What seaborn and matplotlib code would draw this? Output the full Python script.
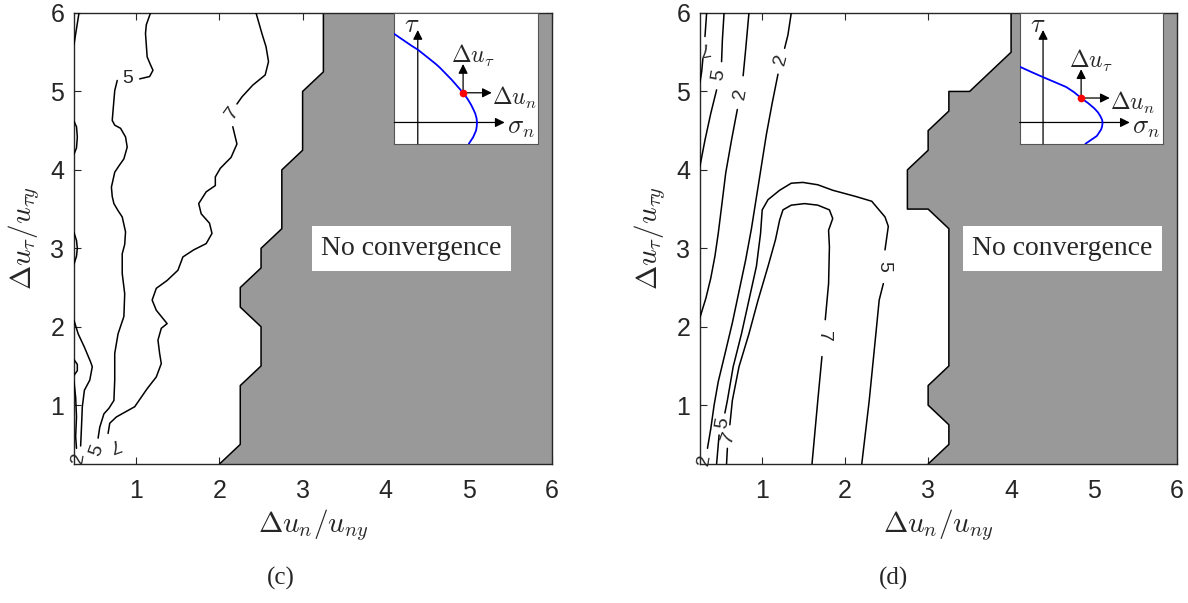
import matplotlib
matplotlib.use("Agg")
import matplotlib.pyplot as plt
import seaborn as sns

# ---------------- data ----------------
tick_vals = [1, 2, 3, 4, 5, 6]
lims = [0.25, 6.0]

# no-convergence boundary, panel (c) (bottom -> top)
gray_c_x = [2.0, 2.25, 2.25, 2.5, 2.5, 2.25, 2.25, 2.5, 2.5, 2.75, 2.75, 3.0, 3.0, 3.25, 3.25]
gray_c_y = [0.25, 0.5, 1.25, 1.5, 2.0, 2.25, 2.5, 2.75, 3.0, 3.25, 4.0, 4.25, 5.0, 5.25, 6.0]
# no-convergence boundary, panel (d)
gray_d_x = [3.0, 3.25, 3.25, 3.0, 3.0, 3.25, 3.25, 3.0, 2.75, 2.75, 3.0, 3.0, 3.25, 3.25, 3.5, 4.0, 4.0]
gray_d_y = [0.25, 0.5, 0.75, 1.0, 1.25, 1.5, 3.25, 3.5, 3.5, 4.0, 4.25, 4.5, 4.75, 5.0, 5.0, 5.5, 6.0]

# contour lines panel (c)
c5_top_x = [1.17, 1.12, 1.11, 1.13, 1.17, 1.20, 1.16, 1.04]
c5_top_y = [6.0, 5.85, 5.74, 5.44, 5.34, 5.27, 5.19, 5.16]
c5_x = [0.77, 0.74, 0.72, 0.71, 0.74, 0.81, 0.87, 0.89, 0.85, 0.79, 0.74, 0.70, 0.71, 0.73, 0.78, 0.83, 0.87,
        0.86, 0.83, 0.83, 0.86, 0.85, 0.78, 0.74, 0.74, 0.73, 0.67, 0.61, 0.56, 0.54]
c5_y = [5.14, 5.01, 4.76, 4.63, 4.57, 4.53, 4.42, 4.29, 4.14, 4.05, 3.97, 3.78, 3.66, 3.57, 3.48, 3.40, 3.21,
        3.05, 2.93, 2.68, 2.42, 2.13, 1.91, 1.66, 1.32, 1.06, 0.96, 0.89, 0.72, 0.58]
c7_top_x = [2.44, 2.51, 2.56, 2.59, 2.55, 2.40, 2.27, 2.21]
c7_top_y = [6.0, 5.74, 5.57, 5.38, 5.21, 5.08, 4.93, 4.84]
c7_x = [2.16, 2.21, 2.14, 2.01, 1.95, 1.95, 1.84, 1.75, 1.78, 1.88, 1.91, 1.84, 1.69, 1.56, 1.50,
        1.37, 1.24, 1.19, 1.24, 1.37, 1.30, 1.26, 1.28, 1.30, 1.24, 1.13, 0.98, 0.76, 0.68, 0.66]
c7_y = [4.55, 4.33, 4.16, 4.02, 3.91, 3.80, 3.72, 3.57, 3.44, 3.32, 3.19, 3.06, 2.98, 2.89, 2.72,
        2.59, 2.49, 2.34, 2.21, 2.04, 1.98, 1.83, 1.66, 1.53, 1.36, 1.21, 0.98, 0.85, 0.77, 0.64]
c2_x = [0.25, 0.30, 0.375, 0.45, 0.47, 0.44, 0.375, 0.35, 0.34, 0.33]
c2_y = [2.08, 1.91, 1.74, 1.55, 1.49, 1.32, 1.19, 0.98, 0.72, 0.48]
c_edge1_x = [0.31, 0.28, 0.25]
c_edge1_y = [6.0, 5.8, 5.6]
c_edge2_x = [0.25, 0.28, 0.29, 0.28, 0.25]
c_edge2_y = [4.62, 4.55, 4.42, 4.28, 4.2]
c_edge3_x = [0.25, 0.28, 0.29, 0.28, 0.25]
c_edge3_y = [3.2, 3.1, 3.0, 2.9, 2.8]
c_edge4_x = [0.25, 0.29, 0.29, 0.25]
c_edge4_y = [1.58, 1.52, 1.44, 1.38]
c_edge5_x = [0.25, 0.27, 0.28, 0.27, 0.28]
c_edge5_y = [1.30, 1.10, 0.85, 0.60, 0.45]

c_label_text = ["5", "7", "2", "5", "7"]
c_label_x = [0.90, 2.16, 0.30, 0.52, 0.72]
c_label_y = [5.16, 4.72, 0.33, 0.42, 0.50]
c_label_rot = [0, 55, 80, 70, 200]

# contour lines panel (d)
d7_a_x = [0.33, 0.31]
d7_a_y = [6.0, 5.70]
d7_b_x = [0.285, 0.27, 0.25]
d7_b_y = [5.42, 5.25, 5.12]
d5a_top_x = [0.54, 0.52, 0.51]
d5a_top_y = [6.0, 5.66, 5.38]
d5a_x = [0.45, 0.38, 0.31, 0.25]
d5a_y = [5.02, 4.72, 4.38, 4.05]
d2a_top_x = [0.84, 0.80, 0.77]
d2a_top_y = [6.0, 5.53, 5.20]
d2a_x = [0.70, 0.63, 0.56, 0.51, 0.47, 0.43, 0.38, 0.32, 0.25]
d2a_y = [4.77, 4.38, 3.96, 3.53, 3.19, 2.90, 2.62, 2.36, 2.12]
d2b_top_x = [1.35, 1.31, 1.27]
d2b_top_y = [6.0, 5.72, 5.55]
d2b_x = [1.19, 1.12, 1.05, 0.99, 0.93, 0.87, 0.80, 0.72, 0.64, 0.55, 0.47, 0.42, 0.38, 0.34]
d2b_y = [5.22, 4.85, 4.45, 4.05, 3.65, 3.25, 2.85, 2.45, 2.05, 1.65, 1.30, 1.0, 0.7, 0.45]
d5u_a_x = [2.20, 2.29, 2.37, 2.41, 2.46]
d5u_a_y = [0.25, 1.06, 1.91, 2.34, 2.55]
d5u_b_x = [2.48, 2.52, 2.48, 2.32, 2.13, 1.85, 1.67, 1.49, 1.35, 1.21, 1.07, 1.0, 0.98, 0.93, 0.84,
           0.75, 0.65, 0.58, 0.55]
d5u_b_y = [2.98, 3.28, 3.40, 3.60, 3.66, 3.74, 3.81, 3.84, 3.83, 3.74, 3.62, 3.49, 3.19, 2.77, 2.34,
           1.91, 1.49, 1.06, 0.90]
d5u_c_x = [0.48, 0.45]
d5u_c_y = [0.62, 0.25]
d7u_a_x = [1.60, 1.67, 1.72]
d7u_a_y = [0.25, 1.06, 1.62]
d7u_b_x = [1.76, 1.80, 1.81, 1.80, 1.85, 1.81, 1.67, 1.51, 1.35, 1.25, 1.21, 1.16, 1.07, 0.95, 0.84,
           0.72, 0.64, 0.61]
d7u_b_y = [2.09, 2.55, 3.02, 3.23, 3.38, 3.49, 3.55, 3.57, 3.55, 3.49, 3.36, 3.11, 2.77, 2.34, 1.91,
           1.49, 1.06, 0.75]
d7u_c_x = [0.58, 0.57]
d7u_c_y = [0.45, 0.25]

d_label_text = ["7", "5", "2", "2", "5", "7", "2", "5", "7"]
d_label_x = [0.29, 0.48, 0.74, 1.23, 2.47, 1.74, 0.31, 0.53, 0.59]
d_label_y = [5.56, 5.21, 4.97, 5.40, 2.77, 1.87, 0.30, 0.78, 0.59]
d_label_rot = [190, 80, 80, 75, -90, -90, 80, 80, 70]

# inset schematic (axes fractions)
ins_c_curve_x = [0.0, 0.04, 0.08, 0.12, 0.164, 0.21, 0.25, 0.29, 0.32, 0.36, 0.40, 0.44, 0.48, 0.51,
                 0.535, 0.553, 0.565, 0.574, 0.577, 0.575, 0.57, 0.56, 0.55, 0.535, 0.52]
ins_c_curve_y = [0.84, 0.81, 0.78, 0.75, 0.72, 0.68, 0.645, 0.61, 0.58, 0.535, 0.49, 0.44, 0.39, 0.345,
                 0.30, 0.26, 0.23, 0.195, 0.163, 0.13, 0.10, 0.075, 0.05, 0.025, 0.0]
ins_c_dot = (0.48, 0.39)
ins_d_curve_x = [0.0, 0.08, 0.163, 0.245, 0.326, 0.38, 0.43, 0.48, 0.523, 0.548, 0.565, 0.576, 0.58,
                 0.577, 0.57, 0.555, 0.54, 0.52, 0.50, 0.48, 0.46]
ins_d_curve_y = [0.59, 0.55, 0.51, 0.472, 0.434, 0.395, 0.35, 0.31, 0.27, 0.24, 0.21, 0.185, 0.163,
                 0.135, 0.11, 0.085, 0.06, 0.045, 0.03, 0.015, 0.0]
ins_d_dot = (0.43, 0.35)

# ---------------- style ----------------
sns.set_theme(style="white")
plt.rcParams['font.family'] = ['Liberation Sans', 'DejaVu Sans']
plt.rcParams['mathtext.fontset'] = 'cm'

fig = plt.figure(figsize=(11.88, 6.03), dpi=100)
axc = fig.add_axes([74 / 1188, 1 - 464 / 603, 478 / 1188, 451 / 603])
axd = fig.add_axes([700 / 1188, 1 - 464 / 603, 477 / 1188, 451 / 603])

GRAY = '#999999'
LW = 1.1


def line(ax, xs, ys, color='black', lw=LW, z=3):
    sns.lineplot(x=xs, y=ys, sort=False, estimator=None, color=color, lw=lw, ax=ax, zorder=z)


def panel(ax, gx, gy, lines, ltext, lx, ly, lrot, box_x, dot, cx, cy):
    px = list(gx) + [lims[1], lims[1]]
    py = list(gy) + [lims[1], lims[0]]
    ax.fill(px, py, color=GRAY, lw=0, zorder=1)
    line(ax, gx, gy, z=2)
    for xs, ys in lines:
        line(ax, xs, ys)
    for t, x, y, r in zip(ltext, lx, ly, lrot):
        ax.text(x, y, t, rotation=r, ha='center', va='center', fontsize=14,
                rotation_mode='anchor', zorder=4)
    ax.text(box_x, 3.0, 'No convergence', family='Liberation Serif', fontsize=20,
            ha='center', va='center', zorder=5,
            bbox=dict(facecolor='white', edgecolor='none', pad=7))
    ax.set_xlim(lims)
    ax.set_ylim(lims)
    ax.set_xticks(tick_vals)
    ax.set_yticks(tick_vals)
    ax.tick_params(direction='in', length=5, width=0.8, top=True, right=True,
                   bottom=True, left=True, labelsize=18, colors='#262626')
    ax.tick_params(axis='x', pad=11)
    ax.tick_params(axis='y', pad=7)
    for s in ax.spines.values():
        s.set_color('#262626')
        s.set_linewidth(1.0)
    ax.set_xlabel(r'$\Delta u_n/u_{ny}$', fontsize=21, labelpad=3, color='#262626')
    ax.set_ylabel(r'$\Delta u_\tau/u_{\tau y}$', fontsize=21, labelpad=6, color='#262626')

    ins = ax.inset_axes([0.670, 0.710, 0.300, 0.290], zorder=6)
    ins.set_facecolor('white')
    ins.set_xlim(0, 1)
    ins.set_ylim(0, 1)
    ins.set_xticks([])
    ins.set_yticks([])
    for s in ins.spines.values():
        s.set_color('#555555')
        s.set_linewidth(0.8)
    ap = dict(arrowstyle='-|>', color='black', lw=0.9, mutation_scale=14, shrinkA=0, shrinkB=0)
    ins.annotate('', xy=(0.77, 0.163), xytext=(0.0, 0.163), arrowprops=ap)
    ins.annotate('', xy=(0.164, 0.87), xytext=(0.164, 0.0), arrowprops=ap)
    line(ins, cx, cy, color='#0000ff', lw=1.3)
    ins.annotate('', xy=(dot[0], dot[1] + 0.22), xytext=dot, arrowprops=ap)
    ins.annotate('', xy=(dot[0] + 0.2, dot[1]), xytext=dot, arrowprops=ap)
    ins.plot([dot[0]], [dot[1]], 'o', color='red', ms=4.5, zorder=7)
    ins.text(0.125, 0.91, r'$\tau$', fontsize=19, ha='center', va='center')
    ins.text(0.88, 0.12, r'$\sigma_n$', fontsize=19, ha='center', va='center')
    ins.text(dot[0] + 0.07, dot[1] + 0.28, r'$\Delta u_\tau$', fontsize=17, ha='center', va='center')
    ins.text(dot[0] + 0.36, dot[1] - 0.04, r'$\Delta u_n$', fontsize=17, ha='center', va='center')


lines_c = [(c5_top_x, c5_top_y), (c5_x, c5_y), (c7_top_x, c7_top_y), (c7_x, c7_y), (c2_x, c2_y),
           (c_edge1_x, c_edge1_y), (c_edge2_x, c_edge2_y), (c_edge3_x, c_edge3_y),
           (c_edge4_x, c_edge4_y), (c_edge5_x, c_edge5_y)]
lines_d = [(d7_a_x, d7_a_y), (d7_b_x, d7_b_y), (d5a_top_x, d5a_top_y), (d5a_x, d5a_y),
           (d2a_top_x, d2a_top_y), (d2a_x, d2a_y), (d2b_top_x, d2b_top_y), (d2b_x, d2b_y),
           (d5u_a_x, d5u_a_y), (d5u_b_x, d5u_b_y), (d5u_c_x, d5u_c_y),
           (d7u_a_x, d7u_a_y), (d7u_b_x, d7u_b_y), (d7u_c_x, d7u_c_y)]

panel(axc, gray_c_x, gray_c_y, lines_c, c_label_text, c_label_x, c_label_y, c_label_rot,
      4.31, ins_c_dot, ins_c_curve_x, ins_c_curve_y)
panel(axd, gray_d_x, gray_d_y, lines_d, d_label_text, d_label_x, d_label_y, d_label_rot,
      4.62, ins_d_dot, ins_d_curve_x, ins_d_curve_y)

fig.text(281 / 1188, 1 - 578 / 603, '(c)', family='Liberation Serif', fontsize=18,
         ha='center', va='center')
fig.text(893 / 1188, 1 - 578 / 603, '(d)', family='Liberation Serif', fontsize=18,
         ha='center', va='center')

fig.savefig('out.png', dpi=100, facecolor='white')
